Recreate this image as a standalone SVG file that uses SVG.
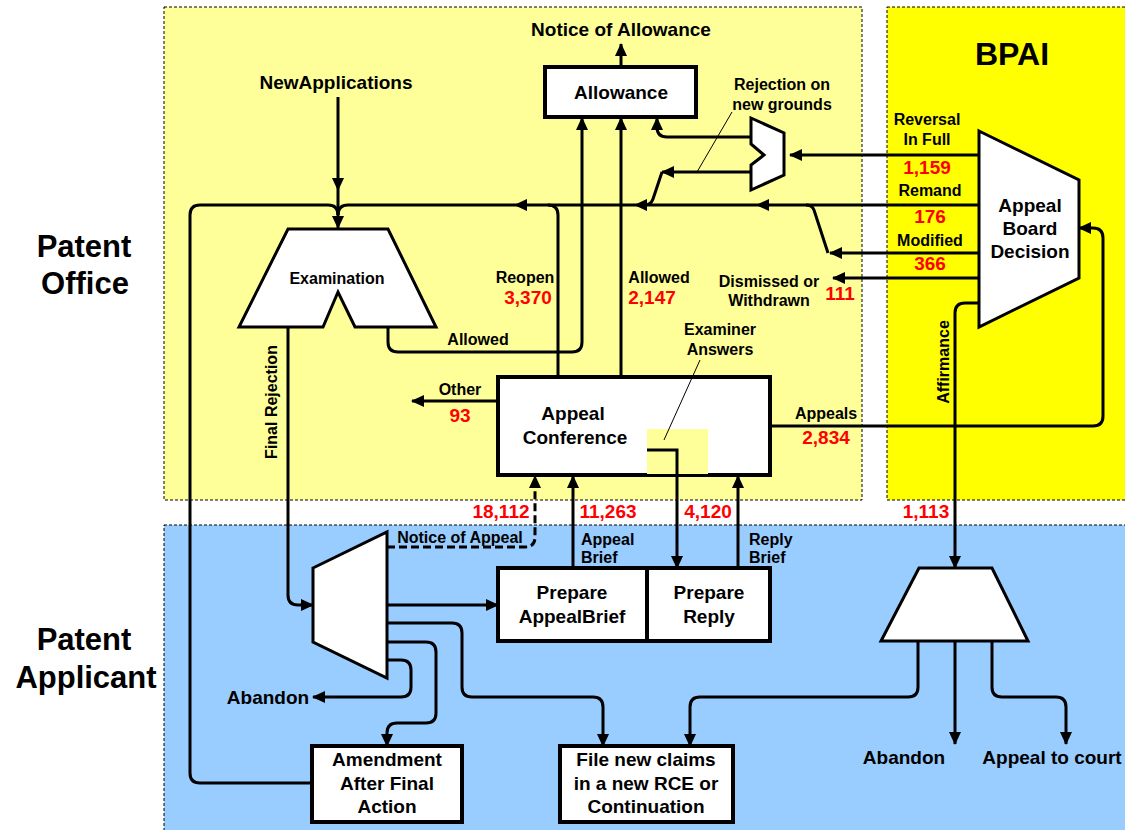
<svg xmlns="http://www.w3.org/2000/svg" width="1125" height="830" viewBox="0 0 1125 830">
<style>
text{font-family:"Liberation Sans",Arial,sans-serif;font-weight:bold;fill:#000}
.t16{font-size:16px}
.t19{font-size:19px}
.num{font-size:19px;fill:#FF0000}
.c{text-anchor:middle}
.region{stroke:#000;stroke-width:1;stroke-dasharray:3,2}
.box{fill:#fff;stroke:#000;stroke-width:4}
.shape{fill:#fff;stroke:#000;stroke-width:3;stroke-linejoin:miter}
.ln{fill:none;stroke:#000;stroke-width:3}
.arr{marker-end:url(#ah)}
.mid{marker-mid:url(#ah)}
.thin{fill:none;stroke:#000;stroke-width:1}
</style>
<defs>
<marker id="ah" markerUnits="userSpaceOnUse" markerWidth="13" markerHeight="12" refX="12" refY="6" orient="auto" viewBox="0 0 13 12">
<path d="M0,0 L13,6 L0,12 z" fill="#000"/>
</marker>
</defs>
<rect width="1125" height="830" fill="#fff"/>
<g id="regions">
<rect class="region" x="164" y="7" width="698" height="493" fill="#FFFF99"/>
<rect class="region" x="887" y="7" width="245" height="493" fill="#FFFF00"/>
<rect class="region" x="164" y="525" width="968" height="310" fill="#99CCFF"/>
<text class="c" x="84" y="257" style="font-size:31px">Patent</text>
<text class="c" x="85" y="294" style="font-size:31px">Office</text>
<text class="c" x="84" y="650" style="font-size:31px">Patent</text>
<text class="c" x="86" y="688" style="font-size:31px">Applicant</text>
<text class="c" x="1012" y="65" style="font-size:32px">BPAI</text>
</g>
<g id="allowance">
<rect class="box" x="545" y="67" width="151" height="50"/>
<text class="t19 c" x="621" y="99">Allowance</text>
</g>
<g id="rejection-mux">
<polygon class="shape" points="751,118 784,133 784,175 751,190 751,165 764,155 751,144"/>
</g>
<g id="board">
<polygon class="shape" points="979,131 1079,180 1079,278 979,327"/>
<text class="t19 c" x="1030" y="212">Appeal</text>
<text class="t19 c" x="1030" y="235">Board</text>
<text class="t19 c" x="1030" y="258">Decision</text>
</g>
<g id="examination">
<polygon class="shape" points="288,229 388,229 436,327 355,327 338,292 323,327 239,327"/>
<text class="t16 c" x="337" y="284">Examination</text>
</g>
<g id="conference">
<rect class="box" x="498" y="377" width="272" height="98"/>
<rect x="647" y="429" width="61" height="45" fill="#FFFF99"/>
<text class="t19 c" x="573" y="420">Appeal</text>
<text class="t19 c" x="575" y="444">Conference</text>
</g>
<g id="applicant-mux">
<polygon class="shape" points="313,568 387,532 387,678 313,642"/>
</g>
<g id="prepare-brief">
<rect class="box" x="498" y="568" width="149" height="73"/>
<text class="t19 c" x="572" y="599">Prepare</text>
<text class="t19 c" x="572" y="623">AppealBrief</text>
</g>
<g id="prepare-reply">
<rect class="box" x="647" y="568" width="123" height="73"/>
<text class="t19 c" x="709" y="599">Prepare</text>
<text class="t19 c" x="709" y="623">Reply</text>
</g>
<g id="applicant-decision">
<polygon class="shape" points="919,568 992,568 1028,641 881,641"/>
</g>
<g id="amendment">
<rect class="box" x="312" y="746" width="150" height="76"/>
<text class="t19 c" x="387" y="766">Amendment</text>
<text class="t19 c" x="387" y="790">After Final</text>
<text class="t19 c" x="387" y="813">Action</text>
</g>
<g id="file-new">
<rect class="box" x="560" y="746" width="173" height="76"/>
<text class="t19 c" x="646" y="766">File new claims</text>
<text class="t19 c" x="646" y="790">in a new RCE or</text>
<text class="t19 c" x="646" y="813">Continuation</text>
</g>
<g id="connectors">
<path class="ln arr" d="M621,67 L621,44"/>
<path class="ln mid arr" d="M338,97 L338,190 L338,228"/>
<path class="ln" d="M312,783 L200,783 Q190,783 190,773 L190,215 Q190,205 200,205 L328,205 Q338,205 338,215"/>
<polyline class="ln mid" points="978,205 757,205 635,205 515,205 348,205"/>
<path class="ln" d="M348,205 Q338,205 338,215"/>
<path class="ln" d="M558,377 L558,215 Q558,205 548,205"/>
<path class="ln arr" d="M388,327 L388,342 Q388,352 398,352 L572,352 Q582,352 582,342 L582,118"/>
<path class="ln arr" d="M621,377 L621,118"/>
<path class="ln arr" d="M751,137 L667,137 Q657,137 657,127 L657,118"/>
<path class="ln arr" d="M751,172 L662,172"/>
<path class="ln" d="M662,172 L653,199 Q651,205 644,205"/>
<path class="ln arr" d="M978,155 L790,155"/>
<path class="ln arr" d="M978,253 L830,253"/>
<path class="ln" d="M828,253 L814,210 Q812,205 806,205"/>
<path class="ln arr" d="M978,278 L833,278"/>
<path class="ln arr" d="M978,303 L965,303 Q955,303 955,313 L955,568"/>
<path class="ln arr" d="M770,426 L1093,426 Q1103,426 1103,416 L1103,238 Q1103,228 1093,228 L1079,228"/>
<path class="ln arr" d="M498,401 L412,401"/>
<path class="ln arr" d="M647,450 L677,450 L677,568"/>
<path class="thin" d="M700,360 L664,440"/>
<path class="thin" d="M732,112 L697,172"/>
<path class="ln arr" d="M288,327 L288,595 Q288,605 298,605 L313,605"/>
<path class="ln arr" d="M387,605 L498,605"/>
<path class="ln arr" d="M387,623 L452,623 Q462,623 462,633 L462,687 Q462,697 472,697 L593,697 Q603,697 603,707 L603,746"/>
<path class="ln arr" d="M387,642 L426,642 Q436,642 436,652 L436,713 Q436,723 426,723 L397,723 Q387,723 387,733 L387,746"/>
<path class="ln arr" d="M387,660 L401,660 Q411,660 411,670 L411,687 Q411,697 401,697 L313,697"/>
<path class="ln arr" d="M387,547 L525,547 Q535,547 535,537 L535,476" stroke-dasharray="8,4"/>
<path class="ln arr" d="M573,568 L573,476"/>
<path class="ln arr" d="M738,568 L738,476"/>
<path class="ln arr" d="M918,641 L918,687 Q918,697 908,697 L700,697 Q690,697 690,707 L690,746"/>
<path class="ln arr" d="M955,641 L955,744"/>
<path class="ln arr" d="M992,641 L992,687 Q992,697 1002,697 L1056,697 Q1066,697 1066,707 L1066,744"/>
</g>
<g id="labels">
<text class="t19 c" x="621" y="36">Notice of Allowance</text>
<text class="t19 c" x="336" y="89">NewApplications</text>
<text class="t16 c" x="782" y="90">Rejection on</text>
<text class="t16 c" x="782" y="110">new grounds</text>
<text class="t16 c" x="927" y="125">Reversal</text>
<text class="t16 c" x="927" y="145">In Full</text>
<text class="num c" x="927" y="174">1,159</text>
<text class="t16 c" x="930" y="196">Remand</text>
<text class="num c" x="930" y="223">176</text>
<text class="t16 c" x="930" y="246">Modified</text>
<text class="num c" x="930" y="270">366</text>
<text class="t16 c" x="525" y="283">Reopen</text>
<text class="num c" x="528" y="304">3,370</text>
<text class="t16 c" x="659" y="283">Allowed</text>
<text class="num c" x="652" y="304">2,147</text>
<text class="t16 c" x="769" y="287">Dismissed or</text>
<text class="t16 c" x="769" y="306">Withdrawn</text>
<text class="num c" x="840" y="300">111</text>
<text class="t16 c" x="478" y="345">Allowed</text>
<text class="t16 c" x="720" y="335">Examiner</text>
<text class="t16 c" x="720" y="355">Answers</text>
<text class="t16 c" x="460" y="395">Other</text>
<text class="num c" x="460" y="422">93</text>
<text class="t16 c" x="826" y="419">Appeals</text>
<text class="num c" x="826" y="444">2,834</text>
<text class="t16 c" transform="translate(277,402) rotate(-90)">Final Rejection</text>
<text class="t16 c" transform="translate(949,362) rotate(-90)">Affirmance</text>
<text class="num c" x="501" y="518">18,112</text>
<text class="num c" x="608" y="518">11,263</text>
<text class="num c" x="708" y="518">4,120</text>
<text class="num c" x="926" y="518">1,113</text>
<text class="t16 c" x="460" y="543">Notice of Appeal</text>
<text class="t16" x="581" y="545">Appeal</text>
<text class="t16" x="581" y="563">Brief</text>
<text class="t16" x="749" y="545">Reply</text>
<text class="t16" x="749" y="563">Brief</text>
<text class="t19 c" x="268" y="704">Abandon</text>
<text class="t19 c" x="904" y="764">Abandon</text>
<text class="t19 c" x="1052" y="764">Appeal to court</text>
</g>
</svg>
